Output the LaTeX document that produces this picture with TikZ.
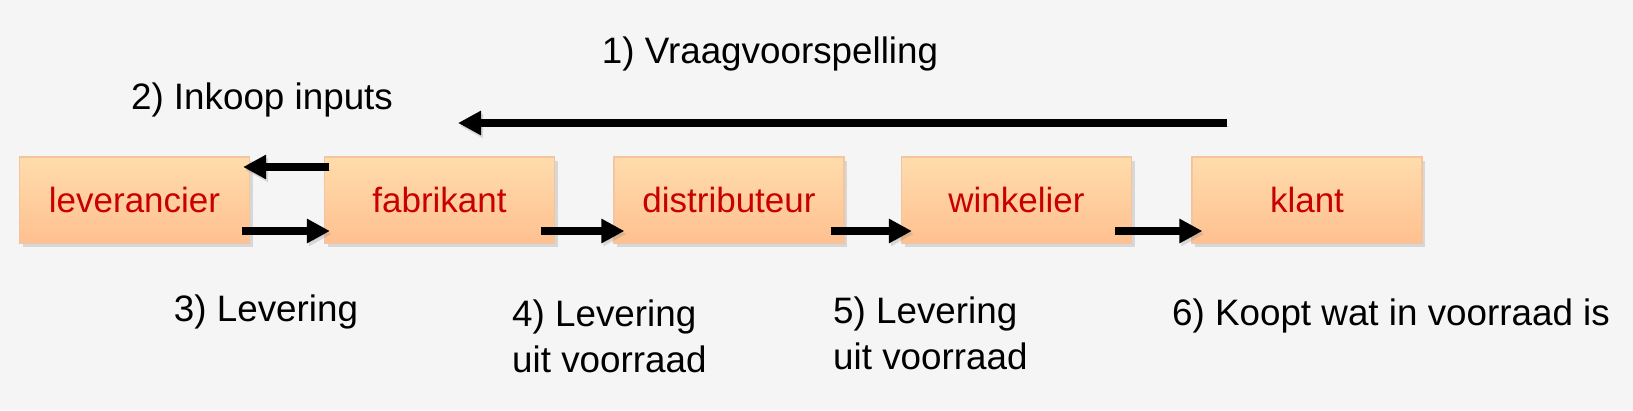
\documentclass[tikz,border=0pt]{standalone}
\usepackage{fontspec}
\setmainfont{Liberation Sans}
\usepackage{xcolor}
\usetikzlibrary{arrows.meta,shadows}
\definecolor{page back}{RGB}{245,245,245}
\definecolor{box top}{RGB}{255,220,172}
\definecolor{box bottom}{RGB}{255,192,144}
\definecolor{box edge}{RGB}{246,196,156}
\definecolor{box text}{RGB}{200,0,0}
\tikzset{chainbox/.style={rectangle, minimum width=230pt, minimum height=86pt,
        top color=box top, bottom color=box bottom, draw=box edge, line width=1.2pt,
        text=box text, font=\fontsize{35}{42}\selectfont,
        drop shadow={opacity=0.25, shadow xshift=3pt, shadow yshift=-4pt}},
    flow/.style={line width=8pt, -{Triangle[length=23pt,width=23pt]},
        preaction={draw=black!50, opacity=0.25, transform canvas={xshift=2pt,yshift=-3pt}}},
    caption/.style={font=\fontsize{36.8}{46}\selectfont, inner sep=0pt}}

\begin{document}
\begin{tikzpicture}[x=1pt,y=-1pt]
    \fill[page back] (0,0) rectangle (1633,410);
    \useasboundingbox (0,0) rectangle (1633,410);
    % the chain
    \node[chainbox] (lev)   at (134.5,200) {leverancier};
    \node[chainbox] (fab)   at (439.5,200) {fabrikant};
    \node[chainbox] (dist)  at (729,200)   {distributeur};
    \node[chainbox] (wink)  at (1016.5,200) {winkelier};
    \node[chainbox] (klant) at (1307,200)  {klant};
    % forecast arrow
    \coordinate (vraag start) at (1227,123);
    \coordinate (vraag end)   at (458,123);
    \draw[flow] (vraag start) -- (vraag end);
    % inputs and deliveries
    \draw[flow] ([xshift=5pt,yshift=33pt]fab.west) -- ([xshift=-7pt,yshift=33pt]lev.east);
    \draw[flow] ([xshift=-8pt,yshift=-31pt]lev.east) -- ([xshift=6pt,yshift=-31pt]fab.west);
    \draw[flow] ([xshift=-14pt,yshift=-31pt]fab.east) -- ([xshift=11pt,yshift=-31pt]dist.west);
    \draw[flow] ([xshift=-14pt,yshift=-31pt]dist.east) -- ([xshift=11pt,yshift=-31pt]wink.west);
    \draw[flow] ([xshift=-17pt,yshift=-31pt]wink.east) -- ([xshift=11pt,yshift=-31pt]klant.west);
    % labels
    \node[caption] (vraag)   at (770,54)  {1) Vraagvoorspelling};
    \node[caption] (inkoop)  at (262,100) {2) Inkoop inputs};
    \node[caption] (lev3)    at (266,312) {3) Levering};
    \node[caption,anchor=west,align=left] (lev4) at (512,336) {4) Levering\\uit voorraad};
    \node[caption,anchor=west,align=left] (lev5) at (833,333) {5) Levering\\uit voorraad};
    \node[caption] (koopt)   at (1391,316) {6) Koopt wat in voorraad is};
\end{tikzpicture}
\end{document}
